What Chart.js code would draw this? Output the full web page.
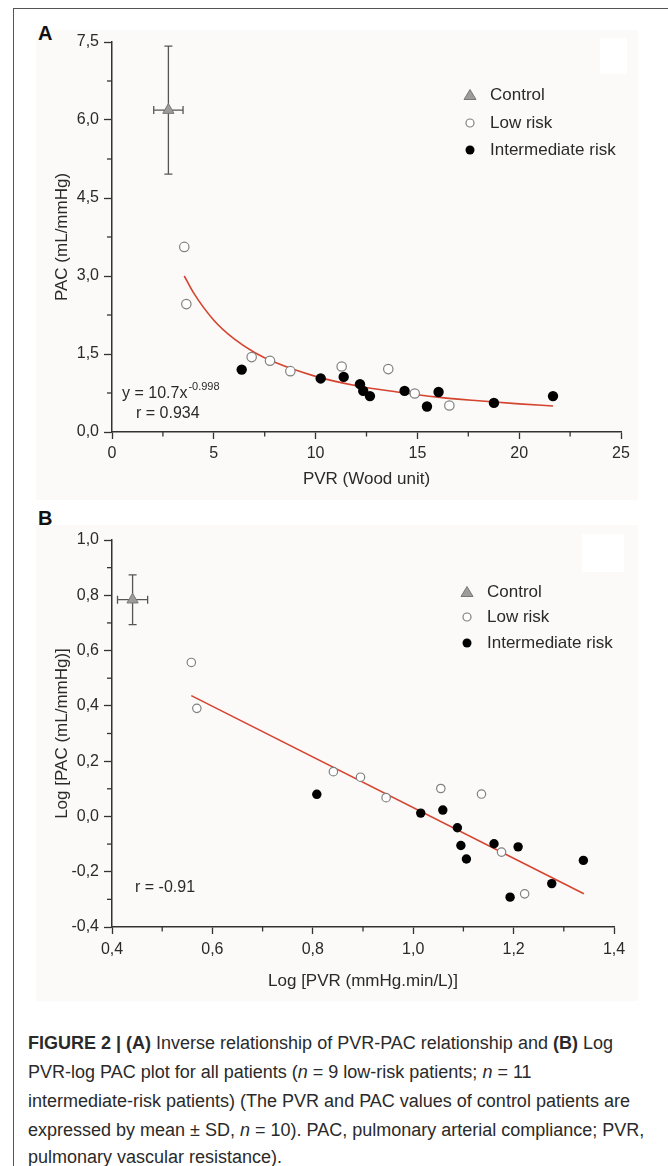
<!DOCTYPE html>
<html><head><meta charset="utf-8">
<script src="https://cdn.jsdelivr.net/npm/chart.js@4.4.1/dist/chart.umd.min.js"></script>
<style>
html,body{margin:0;padding:0;background:#fff;}
body{width:668px;height:1166px;position:relative;overflow:hidden;font-family:"Liberation Sans",Arial,Helvetica,sans-serif;}
#frame{position:absolute;left:13px;top:8px;width:720px;height:1200px;border-left:1.5px solid #555;border-top:1.5px solid #555;}
.bg{position:absolute;background:#fcfaf8;}
.wbox{position:absolute;background:#fff;}
.lett{position:absolute;font-weight:bold;font-size:20px;color:#111;line-height:20px;}
canvas{position:absolute;left:0;}
.cap{position:absolute;left:28px;font-size:18px;color:#2a2a2a;white-space:nowrap;line-height:22px;}
</style></head>
<body>
<div id="frame"></div>
<div class="bg" style="left:36px;top:30px;width:602px;height:470px;"></div>
<div class="bg" style="left:36px;top:525px;width:602px;height:476px;"></div>
<div class="wbox" style="left:600px;top:38px;width:27px;height:36px;"></div>
<div class="wbox" style="left:582px;top:534px;width:42px;height:38px;"></div>
<div class="lett" style="left:38px;top:23px;">A</div>
<div class="lett" style="left:38px;top:508px;">B</div>
<canvas id="cA" width="668" height="500" style="top:0;"></canvas>
<canvas id="cB" width="668" height="510" style="top:500px;"></canvas>
<div class="cap" style="top:1032px;"><b>FIGURE 2 | (A)</b> Inverse relationship of PVR-PAC relationship and <b>(B)</b> Log</div>
<div class="cap" style="top:1061px;">PVR-log PAC plot for all patients (<i>n</i> = 9 low-risk patients; <i>n</i> = 11</div>
<div class="cap" style="top:1090px;">intermediate-risk patients) (The PVR and PAC values of control patients are</div>
<div class="cap" style="top:1119px;">expressed by mean ± SD, <i>n</i> = 10). PAC, pulmonary arterial compliance; PVR,</div>
<div class="cap" style="top:1146px;">pulmonary vascular resistance).</div>
<script>
// ---------- Panel A data ----------
const lowRiskPVR = [3.55, 3.65, 6.86, 7.76, 8.76, 11.28, 13.57, 14.87, 16.57];
const lowRiskPAC = [3.56, 2.46, 1.44, 1.37, 1.17, 1.26, 1.21, 0.74, 0.51];
const interPVR = [6.37, 10.25, 11.38, 12.18, 12.34, 12.67, 14.37, 15.47, 16.04, 18.76, 21.66];
const interPAC = [1.20, 1.03, 1.06, 0.92, 0.79, 0.69, 0.79, 0.49, 0.77, 0.56, 0.69];
const controlPVR = [2.77], controlPVRsd = [0.72];
const controlPAC = [6.19], controlPACsd = [1.23];
const fitA_PVR = [3.55, 4, 5, 6, 7, 8, 10, 12, 14, 16, 18, 20, 21.66];
const fitA_PAC = [3.00, 2.68, 2.15, 1.79, 1.53, 1.34, 1.07, 0.89, 0.77, 0.67, 0.60, 0.54, 0.50];
const ticksA_x = [0, 5, 10, 15, 20, 25];
const ticksA_y = [0, 1.5, 3.0, 4.5, 6.0, 7.5];

// ---------- Panel B data ----------
const lowLogPVR = [0.558, 0.569, 0.841, 0.895, 0.946, 1.055, 1.136, 1.176, 1.222];
const lowLogPAC = [0.557, 0.391, 0.162, 0.142, 0.068, 0.101, 0.081, -0.129, -0.280];
const interLogPVR = [0.808, 1.015, 1.059, 1.088, 1.095, 1.106, 1.161, 1.193, 1.209, 1.276, 1.339];
const interLogPAC = [0.080, 0.012, 0.023, -0.041, -0.105, -0.154, -0.099, -0.292, -0.110, -0.243, -0.159];
const controlLogPVR = [0.441], controlLogPVRsd = [0.030];
const controlLogPAC = [0.784], controlLogPACsd = [0.090];
const fitB_PVR = [0.558, 1.340];
const fitB_PAC = [0.437, -0.280];
const ticksB_x = [0.4, 0.6, 0.8, 1.0, 1.2, 1.4];
const ticksB_y = [-0.4, -0.2, 0.0, 0.2, 0.4, 0.6, 0.8, 1.0];

const legendLabels = ['Control', 'Low risk', 'Intermediate risk'];

const FONT = '"Liberation Sans", Arial, Helvetica, sans-serif';
const AXC = '#333';
const TXT = '#2a2a2a';
const RED = '#d4442f';
const comma = (v, d) => v.toFixed(d).replace('.', ',');
const pts = (xs, ys) => xs.map((x, i) => ({x: x, y: ys[i]}));

const minorTicks = {
  id: 'minorTicks',
  afterDraw(chart) {
    const ctx = chart.ctx;
    ctx.save();
    ctx.strokeStyle = AXC; ctx.lineWidth = 1.3;
    const sx = chart.scales.x, sy = chart.scales.y;
    const tx = sx.ticks.map(t => t.value), ty = sy.ticks.map(t => t.value);
    for (let i = 0; i < tx.length - 1; i++) {
      const px = sx.getPixelForValue((tx[i] + tx[i+1]) / 2);
      ctx.beginPath(); ctx.moveTo(px, sx.top); ctx.lineTo(px, sx.top + 4.5); ctx.stroke();
    }
    for (let i = 0; i < ty.length - 1; i++) {
      const py = sy.getPixelForValue((ty[i] + ty[i+1]) / 2);
      ctx.beginPath(); ctx.moveTo(sy.right, py); ctx.lineTo(sy.right - 5, py); ctx.stroke();
    }
    ctx.restore();
  }
};

const errorBars = {
  id: 'errorBars',
  beforeDatasetsDraw(chart, args, o) {
    const ctx = chart.ctx, sx = chart.scales.x, sy = chart.scales.y;
    ctx.save();
    ctx.strokeStyle = '#555'; ctx.lineWidth = 1.3;
    o.x.forEach((mx, i) => {
      const my = o.y[i];
      const cx = sx.getPixelForValue(mx), cy = sy.getPixelForValue(my);
      const x0 = sx.getPixelForValue(mx - o.sx[i]), x1 = sx.getPixelForValue(mx + o.sx[i]);
      const y0 = sy.getPixelForValue(my - o.sy[i]), y1 = sy.getPixelForValue(my + o.sy[i]);
      const c = 4;
      ctx.beginPath();
      ctx.moveTo(cx, y0); ctx.lineTo(cx, y1);
      ctx.moveTo(cx - c, y0); ctx.lineTo(cx + c, y0);
      ctx.moveTo(cx - c, y1); ctx.lineTo(cx + c, y1);
      ctx.moveTo(x0, cy); ctx.lineTo(x1, cy);
      ctx.moveTo(x0, cy - c); ctx.lineTo(x0, cy + c);
      ctx.moveTo(x1, cy - c); ctx.lineTo(x1, cy + c);
      ctx.stroke();
    });
    ctx.restore();
  }
};

const overlay = {
  id: 'overlay',
  afterDraw(chart, args, o) {
    const ctx = chart.ctx;
    ctx.save();
    const L = o.legend;
    ctx.font = '17px ' + FONT; ctx.fillStyle = TXT; ctx.textBaseline = 'middle'; ctx.textAlign = 'left';
    L.rows.forEach((y, i) => ctx.fillText(legendLabels[i], L.tx, y));
    let mx = L.mx, my = L.rows[0];
    ctx.beginPath(); ctx.moveTo(mx, my - 5.5); ctx.lineTo(mx + 6, my + 4.5); ctx.lineTo(mx - 6, my + 4.5); ctx.closePath();
    ctx.fillStyle = '#9c9c9c'; ctx.fill(); ctx.strokeStyle = '#777'; ctx.lineWidth = 1; ctx.stroke();
    ctx.beginPath(); ctx.arc(mx, L.rows[1], 4, 0, Math.PI * 2);
    ctx.fillStyle = '#fff'; ctx.fill(); ctx.strokeStyle = '#808080'; ctx.lineWidth = 1.2; ctx.stroke();
    ctx.beginPath(); ctx.arc(mx, L.rows[2], 4.5, 0, Math.PI * 2);
    ctx.fillStyle = '#000'; ctx.fill();
    ctx.fillStyle = TXT;
    o.texts.forEach(t => {
      ctx.font = '16px ' + FONT;
      ctx.fillText(t.main, t.x, t.y);
      if (t.sup) {
        const w = ctx.measureText(t.main).width;
        ctx.font = '11px ' + FONT;
        ctx.fillText(t.sup, t.x + w + 1, t.y - 7);
      }
    });
    ctx.restore();
  }
};

function makeChart(id, cfg) {
  return new Chart(document.getElementById(id), {
    type: 'scatter',
    data: { datasets: [
      { label: 'Control', data: pts(cfg.cX, cfg.cY), order: 0, pointStyle: 'triangle', pointRadius: 6.5,
        backgroundColor: '#9c9c9c', borderColor: '#777', borderWidth: 1 },
      { label: 'Low risk', data: pts(cfg.lX, cfg.lY), order: 1, pointRadius: cfg.rOpen,
        backgroundColor: '#fff', borderColor: '#808080', borderWidth: 1.2 },
      { label: 'Intermediate risk', data: pts(cfg.iX, cfg.iY), order: 2, pointRadius: cfg.rFill,
        backgroundColor: '#000', borderColor: '#000', borderWidth: 0 },
      { label: 'Fit', data: pts(cfg.fX, cfg.fY), order: 3, showLine: true, pointRadius: 0,
        borderColor: RED, borderWidth: 1.6, cubicInterpolationMode: 'monotone', fill: false }
    ]},
    options: {
      responsive: false, animation: false, devicePixelRatio: 1,
      layout: { padding: cfg.pad },
      plugins: { legend: { display: false }, tooltip: { enabled: false },
        errorBars: { x: cfg.cX, y: cfg.cY, sx: cfg.cXsd, sy: cfg.cYsd },
        overlay: { legend: cfg.legend, texts: cfg.texts } },
      scales: {
        x: { type: 'linear', min: cfg.xTicks[0], max: cfg.xTicks[cfg.xTicks.length - 1],
          afterBuildTicks: s => { s.ticks = cfg.xTicks.map(v => ({value: v})); },
          ticks: { font: { family: FONT, size: 16 }, color: TXT, padding: cfg.xPad, maxRotation: 0, autoSkip: false,
            callback: cfg.xFmt },
          grid: { drawOnChartArea: false, drawTicks: true, tickLength: 7, tickColor: AXC, tickWidth: 1.3 },
          border: { color: AXC, width: 1.5 },
          title: { display: true, text: cfg.xTitle, font: { family: FONT, size: 17 }, color: TXT, padding: 0 },
          afterFit: s => { s.height = cfg.xH; } },
        y: { type: 'linear', min: cfg.yTicks[0], max: cfg.yTicks[cfg.yTicks.length - 1],
          afterBuildTicks: s => { s.ticks = cfg.yTicks.map(v => ({value: v})); },
          ticks: { font: { family: FONT, size: 16 }, color: TXT, padding: 5, autoSkip: false,
            callback: v => comma(v, 1) },
          grid: { drawOnChartArea: false, drawTicks: true, tickLength: 8, tickColor: AXC, tickWidth: 1.3 },
          border: { color: AXC, width: 1.5 },
          title: { display: true, text: cfg.yTitle, font: { family: FONT, size: 17 }, color: TXT, padding: 0 },
          afterFit: s => { s.width = cfg.yW; } }
      }
    },
    plugins: [minorTicks, errorBars, overlay]
  });
}

makeChart('cA', {
  cX: controlPVR, cY: controlPAC, cXsd: controlPVRsd, cYsd: controlPACsd,
  lX: lowRiskPVR, lY: lowRiskPAC, iX: interPVR, iY: interPAC, fX: fitA_PVR, fY: fitA_PAC,
  rOpen: 4.7, rFill: 5.2,
  xTicks: ticksA_x, yTicks: ticksA_y, xFmt: v => String(v), xPad: 5,
  xTitle: 'PVR (Wood unit)', yTitle: 'PAC (mL/mmHg)',
  pad: { left: 52, right: 47, top: 42, bottom: 10 }, xH: 58, yW: 60,
  legend: { mx: 470, tx: 490, rows: [95, 123, 150] },
  texts: [ { main: 'y = 10.7x', sup: '-0.998', x: 122, y: 394 }, { main: 'r = 0.934', x: 136, y: 414 } ]
});

makeChart('cB', {
  cX: controlLogPVR, cY: controlLogPAC, cXsd: controlLogPVRsd, cYsd: controlLogPACsd,
  lX: lowLogPVR, lY: lowLogPAC, iX: interLogPVR, iY: interLogPAC, fX: fitB_PVR, fY: fitB_PAC,
  rOpen: 4.2, rFill: 4.7,
  xTicks: ticksB_x, yTicks: ticksB_y, xFmt: v => comma(v, 1), xPad: 6,
  xTitle: 'Log [PVR (mmHg.min/L)]', yTitle: 'Log [PAC (mL/mmHg)]',
  pad: { left: 52, right: 54, top: 40, bottom: 18 }, xH: 65, yW: 60,
  legend: { mx: 467, tx: 487, rows: [92, 117, 143] },
  texts: [ { main: 'r = -0.91', x: 135, y: 388 } ]
});
</script>
</body></html>
